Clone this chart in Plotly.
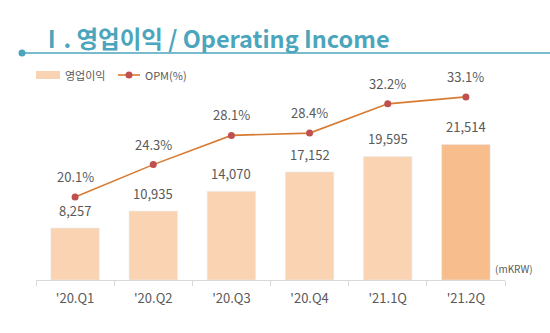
import plotly.graph_objects as go

categories = ["'20.Q1", "'20.Q2", "'20.Q3", "'20.Q4", "'21.1Q", "'21.2Q"]
op_income = [8257, 10935, 14070, 17152, 19595, 21514]
opm = [20.1, 24.3, 28.1, 28.4, 32.2, 33.1]

bar_colors = ["#FAD4B2"] * 5 + ["#F7BD8C"]
font_family = "Noto Sans CJK KR, Noto Sans, sans-serif"
gray = "#595959"

fig = go.Figure()
fig.add_trace(go.Bar(x=categories, y=op_income, marker_color=bar_colors,
                     width=0.62, showlegend=False, hoverinfo="skip"))
fig.add_trace(go.Scatter(x=categories, y=opm, yaxis="y2", mode="lines+markers",
                         line=dict(color="#D87B32", width=1.6),
                         marker=dict(color="#C0504D", size=7),
                         showlegend=False, hoverinfo="skip"))

ann = []
for c, v in zip(categories, op_income):
    ann.append(dict(x=c, y=v, xref="x", yref="y", text=f"{v:,}", showarrow=False,
                    yanchor="bottom", yshift=6, font=dict(size=13, color=gray, family=font_family)))
for c, v in zip(categories, opm):
    ann.append(dict(x=c, y=v, xref="x", yref="y2", text=f"{v:.1f}%", showarrow=False,
                    yanchor="bottom", yshift=9, font=dict(size=13, color=gray, family=font_family)))

# title
ann.append(dict(x=38, y=38, xref="paper", yref="paper", text="<b>Ⅰ. 영업이익 / Operating Income</b>",
                showarrow=False, xanchor="left", yanchor="middle",
                font=dict(size=23.5, color="#4BA5BC", family=font_family)))
# unit
ann.append(dict(x=535, y=268, xref="paper", yref="paper", text="(mKRW)", showarrow=False,
                xanchor="right", yanchor="middle", font=dict(size=10, color=gray, family=font_family)))
# legend texts
ann.append(dict(x=63, y=75, xref="paper", yref="paper", text="영업이익", showarrow=False,
                xanchor="left", yanchor="middle", font=dict(size=11, color=gray, family=font_family)))
ann.append(dict(x=143, y=75, xref="paper", yref="paper", text="OPM(%)", showarrow=False,
                xanchor="left", yanchor="middle", font=dict(size=11, color=gray, family=font_family)))

W, H = 550, 333
ML, MR, MT, MB = 36, 45, 60, 53

def px(xp):
    return (xp - ML) / (W - ML - MR)

def py(yp):
    return 1 - (yp - MT) / (H - MT - MB)

for a in ann:
    if a["xref"] == "paper":
        a["x"] = px(a["x"])
        a["y"] = py(a["y"])

shapes = []
# title underline and dot
shapes.append(dict(type="line", xref="paper", yref="paper", x0=px(22), x1=px(550), y0=py(53), y1=py(53),
                   line=dict(color="#4BA5BC", width=1.5)))
shapes.append(dict(type="circle", xref="paper", yref="paper", x0=px(18.5), x1=px(25.5), y0=py(49.5), y1=py(56.5),
                   fillcolor="#4BA5BC", line=dict(width=0)))
# legend swatches
shapes.append(dict(type="rect", xref="paper", yref="paper", x0=px(36), x1=px(60), y0=py(71), y1=py(79),
                   fillcolor="#FAD4B2", line=dict(width=0)))
shapes.append(dict(type="line", xref="paper", yref="paper", x0=px(118), x1=px(140), y0=py(75), y1=py(75),
                   line=dict(color="#D87B32", width=1.6)))
shapes.append(dict(type="circle", xref="paper", yref="paper", x0=px(125.5), x1=px(132.5), y0=py(71.5), y1=py(78.5),
                   fillcolor="#C0504D", line=dict(width=0)))

fig.update_layout(
    width=W, height=H,
    margin=dict(l=ML, r=MR, t=MT, b=MB),
    paper_bgcolor="white", plot_bgcolor="white",
    bargap=0.38,
    xaxis=dict(showline=True, linecolor="#D9D9D9", linewidth=1, ticks="outside", tickson="boundaries",
               ticklen=5, tickcolor="#D9D9D9", tickfont=dict(size=13, color=gray, family=font_family),
               ticklabelstandoff=6, showgrid=False),
    yaxis=dict(range=[0, 34900], visible=False, showgrid=False, fixedrange=True),
    yaxis2=dict(range=[9.3, 37.9], overlaying="y", visible=False, showgrid=False),
    annotations=ann,
    shapes=shapes,
)

fig.write_html("out.html")
